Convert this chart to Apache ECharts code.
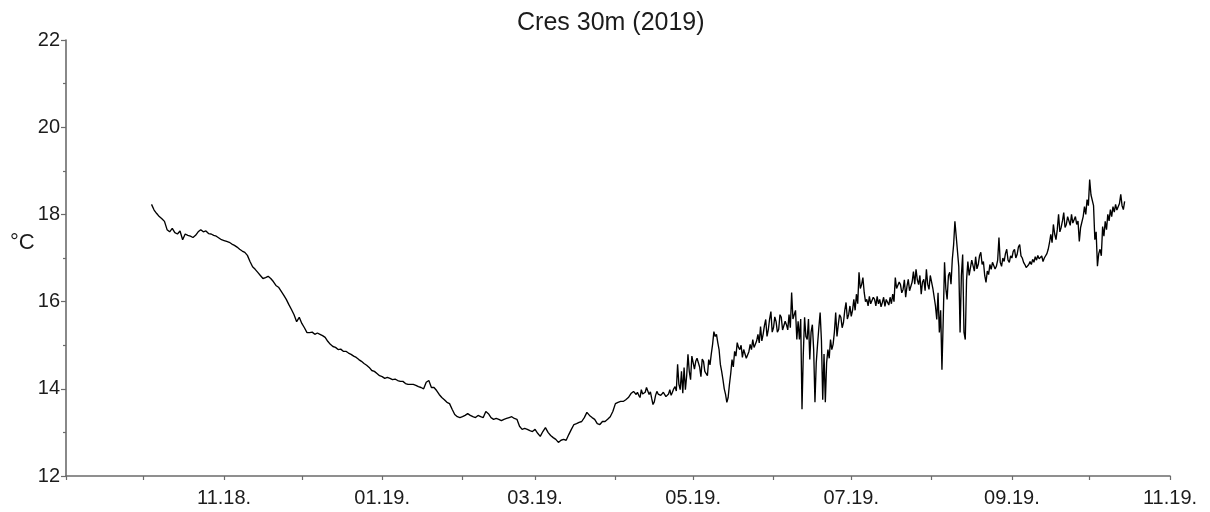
<!DOCTYPE html>
<html>
<head>
<meta charset="utf-8">
<title>Cres 30m (2019)</title>
<script src="https://cdn.jsdelivr.net/npm/echarts@6/dist/echarts.min.js"></script>
<style>
  html, body { margin: 0; padding: 0; background: #fff; }
  #chart { width: 1210px; height: 512px; }
</style>
</head>
<body>
<div id="chart"></div>
<script>
// Sea temperature at 30 m depth, Cres station
const titleText = 'Cres 30m (2019)';
const unitLabel = '°C';

// Autumn and winter: one reading per day, from 4 Oct 2018
const dailyStart = [2018, 9, 4];
const dailyReadings = [
  18.23, 18.10, 18.02, 17.95, 17.90, 17.84,
  17.65, 17.60, 17.68, 17.58, 17.55,
  17.62, 17.42, 17.55, 17.52, 17.50,
  17.47, 17.52, 17.60, 17.65, 17.60,
  17.62, 17.56, 17.55, 17.52, 17.50,
  17.46, 17.42, 17.40, 17.38, 17.36,
  17.32, 17.29, 17.25, 17.20, 17.16,
  17.13, 17.06, 16.92, 16.80, 16.74,
  16.67, 16.60, 16.53, 16.55, 16.58,
  16.53, 16.46, 16.37, 16.33, 16.24,
  16.15, 16.05, 15.93, 15.82, 15.70,
  15.54, 15.64, 15.50, 15.40, 15.29,
  15.29, 15.30, 15.25, 15.28, 15.25,
  15.22, 15.18, 15.09, 15.02, 14.97,
  14.95, 14.90, 14.91, 14.86, 14.86,
  14.82, 14.79, 14.75, 14.72, 14.67,
  14.63, 14.58, 14.54, 14.49, 14.42,
  14.40, 14.35, 14.30, 14.28, 14.24,
  14.26, 14.24, 14.21, 14.22, 14.19,
  14.17, 14.17, 14.12, 14.10, 14.10,
  14.10, 14.08, 14.05, 14.03, 14.00,
  14.15, 14.19, 14.03, 14.03, 13.96,
  13.87, 13.80, 13.75, 13.69, 13.66,
  13.53, 13.41, 13.36, 13.34, 13.36,
  13.39, 13.43, 13.39, 13.36, 13.34,
  13.39, 13.36, 13.34, 13.48, 13.43,
  13.34, 13.30, 13.32, 13.30, 13.27,
  13.30, 13.32, 13.34, 13.36, 13.32,
  13.30, 13.14, 13.07, 13.09, 13.07,
  13.04, 13.02, 13.07, 12.98, 12.91,
  13.02, 13.11, 13.00, 12.93, 12.88,
  12.84, 12.77, 12.82, 12.84, 12.82,
  12.95, 13.07, 13.18, 13.20, 13.23,
  13.25, 13.34, 13.46, 13.39, 13.34,
  13.30, 13.20, 13.18, 13.25, 13.25,
  13.30, 13.36, 13.48, 13.66, 13.69,
  13.71, 13.71, 13.75, 13.80, 13.89
];

// Spring to autumn: two readings per day, from 8 Apr 2019
const halfDailyStart = [2019, 3, 8];
const halfDailyReadings = [
  13.94, 13.90, 13.87, 13.92, 13.85, 13.80, 13.98, 13.88, 13.85, 13.92,
  14.03, 13.95, 13.87, 13.93, 13.78, 13.64, 13.70, 13.85, 13.94, 13.88,
  13.92, 13.85, 13.82, 13.92, 13.90, 13.82, 13.82, 13.88, 13.98, 13.85,
  13.92, 14.00, 14.05, 13.95, 14.56, 14.10, 13.98, 14.40, 13.90, 14.49,
  13.98, 14.30, 14.79, 14.40, 14.21, 14.75, 14.72, 14.45, 14.63, 14.70,
  14.72, 14.50, 14.28, 14.68, 14.63, 14.40, 14.44, 14.30, 14.67, 14.55,
  14.80, 15.02, 15.31, 15.20, 15.25, 15.06, 14.90, 14.56, 14.40, 14.21,
  14.00, 13.87, 13.69, 13.80, 14.10, 14.35, 14.67, 14.50, 14.86, 14.75,
  15.06, 14.95, 14.90, 15.00, 14.72, 14.90, 14.86, 14.70, 14.67, 14.85,
  15.02, 14.90, 15.13, 14.95, 15.02, 15.10, 15.25, 15.05, 15.43, 15.10,
  15.25, 15.45, 15.59, 15.20, 15.36, 15.60, 15.77, 15.30, 15.40, 15.65,
  15.54, 15.30, 15.36, 15.70, 15.64, 15.35, 15.31, 15.55, 15.47, 15.35,
  15.70, 15.40, 16.21, 15.60, 15.59, 15.80, 15.13, 15.55, 15.13, 15.60,
  13.53, 14.80, 15.64, 15.20, 15.13, 15.60, 14.67, 15.30, 15.47, 14.90,
  13.69, 14.60, 15.02, 15.40, 15.75, 15.10, 13.75, 14.80, 13.69, 14.60,
  14.90, 14.70, 15.13, 14.90, 15.02, 15.30, 15.75, 15.20, 15.47, 15.70,
  15.64, 15.40, 15.52, 15.80, 15.98, 15.60, 15.70, 15.90, 15.66, 15.80,
  16.05, 15.80, 16.17, 15.95, 16.67, 16.30, 16.39, 16.55, 16.21, 16.00,
  16.05, 15.90, 16.12, 15.95, 15.93, 16.10, 16.05, 15.90, 16.12, 15.95,
  16.05, 15.88, 15.98, 16.10, 15.89, 16.05, 16.05, 15.92, 16.10, 15.95,
  16.17, 16.00, 16.55, 16.30, 16.28, 16.45, 16.39, 16.20, 16.28, 16.50,
  16.10, 16.35, 16.51, 16.25, 16.23, 16.45, 16.69, 16.40, 16.74, 16.50,
  16.39, 16.60, 16.17, 16.45, 16.51, 16.25, 16.74, 16.40, 16.28, 16.60,
  16.62, 16.30, 16.28, 15.90, 15.59, 16.20, 15.29, 15.80, 14.44, 15.60,
  16.90, 16.30, 16.05, 16.60, 16.67, 16.40, 16.97, 17.30, 17.84, 17.50,
  17.49, 16.80, 15.29, 16.60, 17.08, 15.30, 15.13, 16.50, 16.92, 16.60,
  16.58, 16.95, 16.92, 16.70, 17.03, 16.75, 16.85, 17.05, 17.13, 16.85,
  16.92, 16.60, 16.44, 16.70, 16.62, 16.85, 16.74, 16.90, 16.92, 16.75,
  16.81, 16.95, 17.47, 16.90, 16.81, 17.00, 16.92, 17.10, 17.20, 16.95,
  16.90, 17.05, 17.00, 17.15, 17.20, 17.00, 17.08, 17.25, 17.31, 17.05,
  17.00, 16.90, 16.85, 16.78, 16.74, 16.85, 16.92, 16.85, 16.97, 16.90,
  17.03, 16.95, 17.06, 16.98, 17.00, 17.05, 16.92, 17.00, 17.00, 17.10,
  17.20, 17.35, 17.54, 17.35, 17.77, 17.55, 17.42, 17.65, 18.00, 17.60,
  17.70, 17.85, 18.04, 17.70, 17.77, 17.95, 17.93, 17.75, 18.00, 17.80,
  17.84, 17.95, 17.77, 17.85, 17.38, 17.70, 17.70, 17.95, 18.18, 18.00,
  18.34, 18.20, 18.80, 18.45, 18.41, 18.20, 17.42, 17.60, 16.81, 17.10,
  17.20, 17.05, 17.72, 17.50, 17.84, 17.65, 18.00, 17.85, 18.11, 17.95,
  18.18, 18.05, 18.23, 18.10, 18.11, 18.25, 18.46, 18.20, 18.11, 18.30
];

// Axis range and monthly tick marks; every other month carries a label
const axisStart = [2018, 8, 1];
const axisEnd = [2019, 10, 1];
const tickMonths = [
  [2018, 8], [2018, 9], [2018, 10], [2018, 11],
  [2019, 0], [2019, 1], [2019, 2], [2019, 3], [2019, 4], [2019, 5],
  [2019, 6], [2019, 7], [2019, 8], [2019, 9], [2019, 10]
];
const labelMonths = [
  [2018, 10], [2019, 0], [2019, 2], [2019, 4], [2019, 6], [2019, 8], [2019, 10]
];
const yMin = 12, yMax = 22, yStep = 2;

const toTime = (y, m, d, h = 0) => new Date(y, m, d, h).getTime();
const seriesData = [
  ...dailyReadings.map((v, i) =>
    [toTime(dailyStart[0], dailyStart[1], dailyStart[2] + i), v]),
  ...halfDailyReadings.map((v, i) =>
    [toTime(halfDailyStart[0], halfDailyStart[1], halfDailyStart[2], i * 12), v])
];

const axisColor = '#6b6b6b';
const textColor = '#1c1c1c';
const fontFamily = '"Liberation Sans", Arial, sans-serif';

const monthLabel = (val) => {
  const d = new Date(val);
  const mm = String(d.getMonth() + 1).padStart(2, '0');
  const yy = String(d.getFullYear() % 100).padStart(2, '0');
  return mm + '.' + yy + '.';
};

const chart = echarts.init(document.getElementById('chart'), null, { renderer: 'canvas' });
chart.setOption({
  animation: false,
  backgroundColor: '#ffffff',
  title: {
    text: titleText,
    left: 512,
    top: 6,
    textStyle: { fontFamily, fontSize: 25, fontWeight: 'normal', color: textColor }
  },
  graphic: [{
    type: 'text',
    left: 10,
    top: 232,
    style: { text: unitLabel, font: '22px ' + fontFamily, fill: textColor }
  }],
  grid: { left: 66, right: 40, top: 40, bottom: 36, containLabel: false },
  xAxis: {
    type: 'value',
    min: toTime(...axisStart),
    max: toTime(...axisEnd),
    axisLine: { show: true, onZero: false, lineStyle: { color: axisColor, width: 1.6 } },
    axisTick: {
      show: true, inside: false, length: 4,
      lineStyle: { color: axisColor, width: 1.2 },
      customValues: tickMonths.map(([y, m]) => toTime(y, m, 1))
    },
    axisLabel: {
      show: true,
      margin: 12,
      fontFamily, fontSize: 20, color: textColor,
      customValues: labelMonths.map(([y, m]) => toTime(y, m, 1)),
      formatter: monthLabel
    },
    splitLine: { show: false },
    minorTick: { show: false }
  },
  yAxis: {
    type: 'value',
    min: yMin,
    max: yMax,
    interval: yStep,
    axisLine: { show: true, lineStyle: { color: axisColor, width: 1.6 } },
    axisTick: { show: true, inside: false, length: 5, lineStyle: { color: axisColor, width: 1.2 } },
    minorTick: { show: true, splitNumber: 2, length: 3, lineStyle: { color: axisColor, width: 1.2 } },
    axisLabel: { margin: 6, fontFamily, fontSize: 20, color: textColor },
    splitLine: { show: false }
  },
  series: [{
    type: 'line',
    data: seriesData,
    showSymbol: false,
    symbol: 'none',
    lineStyle: { color: '#000000', width: 1.35 },
    z: 3
  }]
});
</script>
</body>
</html>
